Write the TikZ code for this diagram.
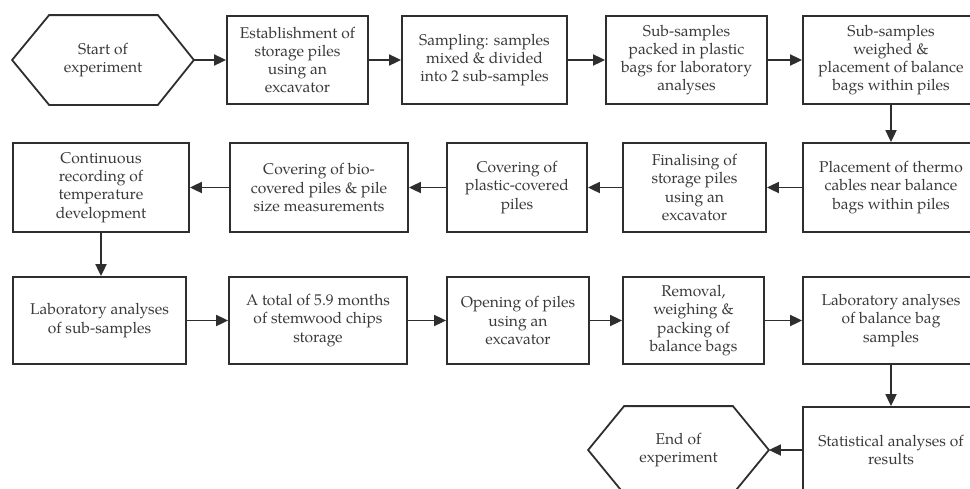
\documentclass[tikz,border=0pt]{standalone}
\usepackage{fontspec}
\setmainfont{texgyrepagella-regular.otf}
\usetikzlibrary{arrows.meta,calc}
\definecolor{ln}{HTML}{2E2E2E}
\definecolor{tx}{HTML}{3A3A3A}
\begin{document}
\begin{tikzpicture}[x=1pt,y=-1pt,
  box/.style={draw=ln, line width=1.8pt, align=center, text=tx,
    font=\fontsize{15.6}{18.3}\selectfont, inner sep=0pt},
  hexlabel/.style={box, draw=none},
  hexline/.style={draw=ln, line width=1.8pt, line join=miter},
  arr/.style={draw=ln, line width=1.8pt, -{Triangle[length=12pt,width=11pt]}}]
\useasboundingbox (0,0) rectangle (970,488);
\clip (0,0) rectangle (970,488);
% row 1
\node[hexlabel, minimum width=180, minimum height=88] (s) at (103,60) {Start of\\experiment};
\draw[hexline] (s.west) -- ([xshift=37pt]s.north west) -- ([xshift=-36pt]s.north east) -- (s.east)
  -- ([xshift=-36pt]s.south east) -- ([xshift=37pt]s.south west) -- cycle;
\node[box, minimum width=141, minimum height=88] (b2) at (297.5,60) {Establishment of\\storage piles\\using an\\excavator};
\node[box, minimum width=165, minimum height=88] (b3) at (484.5,60) {Sampling: samples\\mixed \& divided\\into 2 sub-samples};
\node[box, minimum width=161, minimum height=88] (b4) at (686.5,60) {Sub-samples\\packed in plastic\\bags for laboratory\\analyses};
\node[box, minimum width=176, minimum height=88] (b5) at (891,60) {Sub-samples\\weighed \&\\placement of balance\\bags within piles};
% row 2
\node[box, minimum width=176, minimum height=89] (c1) at (101,187.5) {Continuous\\recording of\\temperature\\development};
\node[box, minimum width=178, minimum height=89] (c2) at (319,187.5) {Covering of bio-\\covered piles \& pile\\size measurements};
\node[box, minimum width=140, minimum height=89] (c3) at (517,187.5) {Covering of\\plastic-covered\\piles};
\node[box, minimum width=143, minimum height=89] (c4) at (694.5,187.5) {Finalising of\\storage piles\\using an\\excavator};
\node[box, minimum width=176, minimum height=89] (c5) at (891,187.5) {Placement of thermo\\cables near balance\\bags within piles};
% row 3
\node[box, minimum width=173, minimum height=87] (d1) at (99.5,320.5) {Laboratory analyses\\of sub-samples};
\node[box, minimum width=178, minimum height=87] (d2) at (318,320.5) {A total of 5.9 months\\of stemwood chips\\storage};
\node[box, minimum width=142, minimum height=87] (d3) at (518,320.5) {Opening of piles\\using an\\excavator};
\node[box, minimum width=141, minimum height=87] (d4) at (693.5,320.5) {Removal,\\weighing \&\\packing of\\balance bags};
\node[box, minimum width=176, minimum height=87] (d5) at (891,320.5) {Laboratory analyses\\of balance bag\\samples};
% row 4
\node[box, minimum width=176, minimum height=86] (e5) at (891,450) {Statistical analyses of\\results};
\node[hexlabel, minimum width=179, minimum height=86] (e) at (678.5,450) {End of\\experiment};
\draw[hexline] (e.west) -- ([xshift=36pt]e.north west) -- ([xshift=-36pt]e.north east) -- (e.east)
  -- ([xshift=-36pt]e.south east) -- ([xshift=36pt]e.south west) -- cycle;
% connectors
\draw[arr] (s.east) -- (b2.west);
\draw[arr] (b2.east) -- (b3.west);
\draw[arr] (b3.east) -- (b4.west);
\draw[arr] (b4.east) -- (b5.west);
\draw[arr] (b5.south) -- (c5.north);
\draw[arr] (c5.west) -- (c4.east);
\draw[arr] (c4.west) -- (c3.east);
\draw[arr] (c3.west) -- (c2.east);
\draw[arr] (c2.west) -- (c1.east);
\draw[arr] (c1.south) -- (c1.south |- d1.north);
\draw[arr] (d1.east) -- (d2.west);
\draw[arr] (d2.east) -- (d3.west);
\draw[arr] (d3.east) -- (d4.west);
\draw[arr] (d4.east) -- (d5.west);
\draw[arr] (d5.south) -- (e5.north);
\draw[arr] (e5.west) -- (e.east);
\end{tikzpicture}
\end{document}
